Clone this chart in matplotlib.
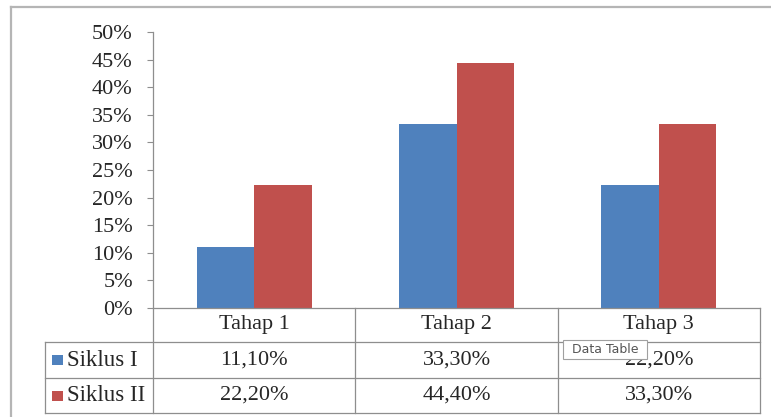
import matplotlib.pyplot as plt
from matplotlib.lines import Line2D
from matplotlib.patches import Rectangle
from matplotlib.ticker import FuncFormatter, MultipleLocator
import numpy as np

plt.rcParams['font.family'] = ['Liberation Serif', 'DejaVu Serif']

# Persentase per tahap untuk tiap siklus
categories = ['Tahap 1', 'Tahap 2', 'Tahap 3']
series_names = ['Siklus I', 'Siklus II']
siklus_1 = [11.10, 33.30, 22.20]
siklus_2 = [22.20, 44.40, 33.30]
series_values = [siklus_1, siklus_2]
colors = ['#4F81BD', '#C0504D']

W, H = 771, 417
fig = plt.figure(figsize=(W / 100, H / 100), dpi=100)


def fx(px):
    return px / W


def fy(py):
    return 1 - py / H


grid_color = '#8E8E8E'
text_color = '#262626'

# plot area in pixel coordinates
x_left, x_right = 153, 760
y_top, y_base = 32, 308
ax = fig.add_axes([fx(x_left), fy(y_base), fx(x_right - x_left), (y_base - y_top) / H])

x = np.arange(len(categories))
width = 0.284
offsets = [-width / 2, width / 2]
for vals, off, col, name in zip(series_values, offsets, colors, series_names):
    ax.bar(x + off, vals, width, color=col, label=name, zorder=2)

ax.set_xlim(-0.5, len(categories) - 0.5)
ax.set_ylim(0, 50)
ax.yaxis.set_major_locator(MultipleLocator(5))
ax.yaxis.set_major_formatter(FuncFormatter(lambda v, p: f'{v:.0f}%'))
ax.set_xticks([])
ax.tick_params(axis='y', direction='out', length=4.5, width=0.8, color=grid_color,
               labelsize=16, labelcolor=text_color, pad=10)
for side in ['top', 'right']:
    ax.spines[side].set_visible(False)
for side in ['left', 'bottom']:
    ax.spines[side].set_color(grid_color)
    ax.spines[side].set_linewidth(0.9)


def hline(y, xa, xb, **kw):
    fig.add_artist(Line2D([fx(xa), fx(xb)], [fy(y), fy(y)], color=grid_color, lw=0.9, **kw))


def vline(xp, ya, yb, **kw):
    fig.add_artist(Line2D([fx(xp), fx(xp)], [fy(ya), fy(yb)], color=grid_color, lw=0.9, **kw))


# data table under the plot
tab_left = 45
row_lines = [342, 378, 413]
for y in row_lines:
    hline(y, tab_left, x_right)
cat_w = (x_right - x_left) / len(categories)
for i in range(len(categories) + 1):
    vline(x_left + i * cat_w, y_base, row_lines[-1])
vline(tab_left, row_lines[0], row_lines[-1])

header_y = (y_base + row_lines[0]) / 2
row_y = [(row_lines[0] + row_lines[1]) / 2, (row_lines[1] + row_lines[2]) / 2]
for i, cat in enumerate(categories):
    cx = x_left + (i + 0.5) * cat_w
    fig.text(fx(cx), fy(header_y), cat, ha='center', va='center', fontsize=16, color=text_color)
    for r, vals in enumerate(series_values):
        label = f'{vals[i]:.2f}'.replace('.', ',') + '%'
        fig.text(fx(cx), fy(row_y[r]), label, ha='center', va='center', fontsize=16,
                 color=text_color, zorder=3)

for r, (name, col) in enumerate(zip(series_names, colors)):
    fig.add_artist(Rectangle((fx(52), fy(row_y[r] + 5)), fx(11), 10 / H,
                             facecolor=col, edgecolor='none'))
    fig.text(fx(67), fy(row_y[r]), name, ha='left', va='center', fontsize=16.5, color=text_color)

# chart frame
fig.add_artist(Line2D([fx(11), fx(11)], [fy(7), 0], color='#B5B5B5', lw=1.6))
fig.add_artist(Line2D([fx(11), 1], [fy(7), fy(7)], color='#B5B5B5', lw=1.6))

# hover tooltip
fig.add_artist(Rectangle((fx(563), fy(359)), fx(84), 19 / H, facecolor='white',
                         edgecolor='#A0A0A0', lw=0.8, zorder=5))
fig.text(fx(605), fy(349.5), 'Data Table', ha='center', va='center', fontsize=9,
         color='#555555', family=['DejaVu Sans'], zorder=6)

fig.savefig('out.png', dpi=100, facecolor='white')
